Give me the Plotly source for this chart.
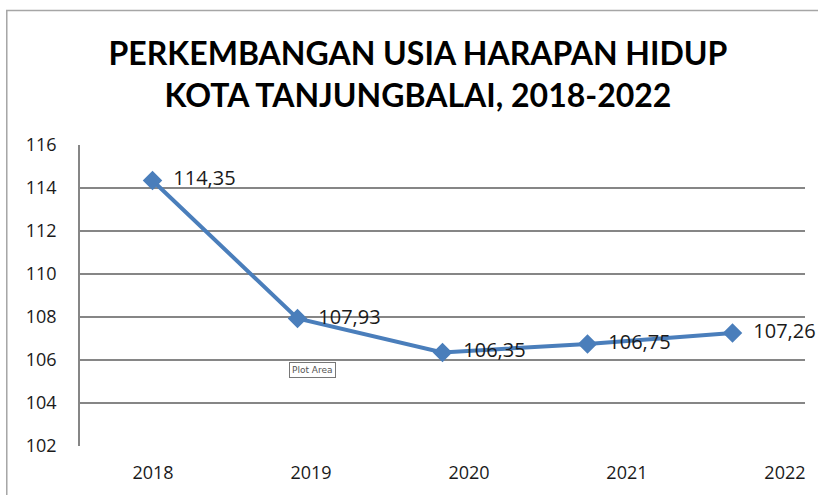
import plotly.graph_objects as go

years = ['2018', '2019', '2020', '2021', '2022']
uhh = [114.35, 107.93, 106.35, 106.75, 107.26]
y_ticks = [102, 104, 106, 108, 110, 112, 114, 116]

labels = ['  ' + f'{v:.2f}'.replace('.', ',') for v in uhh]

blue = '#4a7ebb'
grid = '#868686'

fig = go.Figure()
fig.add_trace(go.Scatter(
    x=list(range(len(years))), y=uhh, mode='lines+markers+text',
    line=dict(color=blue, width=4),
    marker=dict(symbol='diamond', size=15, color=blue),
    text=labels, textposition='middle right',
    textfont=dict(family='Open Sans', size=20, color='#1a1a1a'),
    hoverinfo='skip', cliponaxis=False, showlegend=False
))
# invisible trace so the year-label axis gets drawn
fig.add_trace(go.Scatter(
    x=list(range(len(years))), y=uhh, xaxis='x2', mode='markers',
    marker=dict(opacity=0), hoverinfo='skip', showlegend=False
))

fig.update_layout(
    width=818, height=495,
    margin=dict(l=80, r=13, t=145, b=49),
    paper_bgcolor='white', plot_bgcolor='white',
    title=dict(
        text='PERKEMBANGAN USIA HARAPAN HIDUP<br>KOTA TANJUNGBALAI, 2018-2022',
        x=0.511, xanchor='center', y=0.868, yanchor='top',
        font=dict(family='Lato', size=32, color='black', weight='bold')
    ),
    xaxis=dict(
        range=[-0.5, 4.5], showticklabels=False, showgrid=False,
        zeroline=False, showline=False, fixedrange=True
    ),
    xaxis2=dict(
        overlaying='x', anchor='y', side='bottom',
        range=[-0.462, 4.127], tickmode='array',
        tickvals=list(range(len(years))), ticktext=years,
        showgrid=False, zeroline=False, showline=False, ticks='',
        ticklabelstandoff=14,
        tickfont=dict(family='Open Sans', size=18, color='#1a1a1a')
    ),
    yaxis=dict(
        range=[102, 116], tickmode='array', tickvals=y_ticks,
        showgrid=True, gridcolor=grid, gridwidth=1.5,
        zeroline=False, showline=True, linecolor=grid, linewidth=1.5,
        ticks='', ticklabelstandoff=18,
        tickfont=dict(family='Open Sans', size=18, color='#1a1a1a')
    ),
)

# outer chart border
fig.add_shape(type='rect', xref='paper', yref='paper',
              x0=-0.101, x1=1.1, y0=-0.3, y1=1.447,
              line=dict(color='#a6a6a6', width=1.5), fillcolor='rgba(0,0,0,0)', layer='below')

# little "Plot Area" tooltip from the screenshot
fig.add_annotation(x=0.32, y=0.253, xref='paper', yref='paper', text='Plot Area',
                   xanchor='center', yanchor='middle',
                   showarrow=False, font=dict(family='DejaVu Sans', size=9, color='#555'),
                   bgcolor='white', bordercolor='#777', borderwidth=1, borderpad=2)

fig.write_html('out.html', config={'displayModeBar': False},
               post_script="document.body.style.margin='0';")
